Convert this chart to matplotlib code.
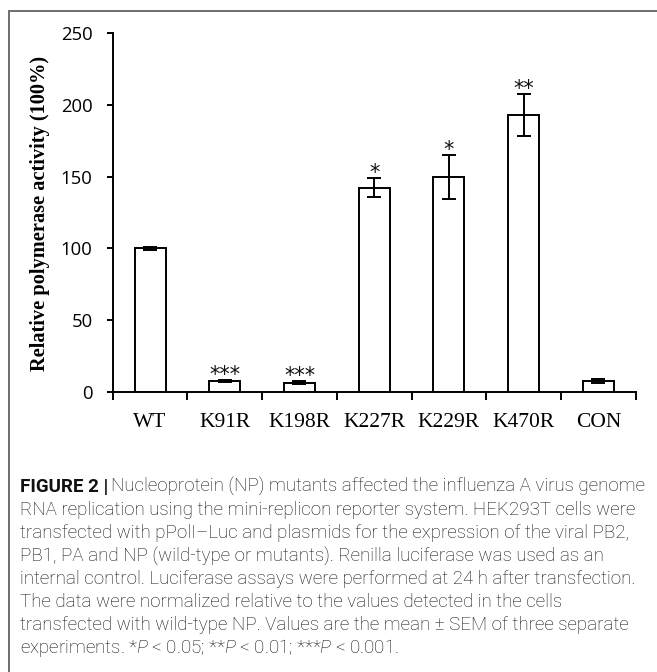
import matplotlib
matplotlib.use("Agg")
import matplotlib.pyplot as plt
from matplotlib.patches import Rectangle
import numpy as np

plt.rcParams["mathtext.fontset"] = "custom"
plt.rcParams["mathtext.it"] = "Roboto:italic:light"
plt.rcParams["mathtext.rm"] = "Roboto:light"

categories = ["WT", "K91R", "K198R", "K227R", "K229R", "K470R", "CON"]
values = [100.0, 7.9, 6.7, 142.2, 149.6, 192.7, 7.9]
errors = [1.0, 0.5, 1.0, 6.5, 15.2, 14.5, 1.6]
stars = ["", "***", "***", "*", "*", "**", ""]
yticks = [0, 50, 100, 150, 200, 250]

caption_lines = [
    "Nucleoprotein (NP) mutants affected the influenza A virus genome",
    "RNA replication using the mini-replicon reporter system. HEK293T cells were",
    "transfected with pPolI\u2013Luc and plasmids for the expression of the viral PB2,",
    "PB1, PA and NP (wild-type or mutants). Renilla luciferase was used as an",
    "internal control. Luciferase assays were performed at 24 h after transfection.",
    "The data were normalized relative to the values detected in the cells",
    "transfected with wild-type NP. Values are the mean \u00b1 SEM of three separate",
]

W, H = 657, 672
fig = plt.figure(figsize=(W / 100, H / 100), dpi=100)

# outer frame (extends beyond right and bottom edges)
fig.patches.append(Rectangle((9 / W, -0.1), 1.2, (H - 11) / H + 0.1,
                             transform=fig.transFigure, fill=False,
                             edgecolor="#6e6e6e", linewidth=1.4))

ax_l, ax_r = 112.7, 635.7
ax_t, ax_b = 32.7, 392.3
ax = fig.add_axes([ax_l / W, 1 - ax_b / H, (ax_r - ax_l) / W, (ax_b - ax_t) / H])

x = np.arange(len(categories))
lw = 1.4
ax.bar(x, values, width=0.415, color="white", edgecolor="black", linewidth=lw, zorder=2)
ax.errorbar(x, values, yerr=errors, fmt="none", ecolor="black", elinewidth=lw,
            capsize=4.8, capthick=lw, zorder=3)

for xi, v, e, s in zip(x, values, errors, stars):
    if s:
        ax.annotate(s, (xi, v + e), xytext=(0, 3.8), textcoords="offset points",
                    ha="center", va="center", fontsize=15, family="DejaVu Sans",
                    color="#111111")

ax.set_xlim(-0.5, len(categories) - 0.5)
ax.set_ylim(0, 250)
ax.set_yticks(yticks)
ax.set_yticklabels([str(t) for t in yticks], family="Open Sans", fontsize=13.3)
ax.set_xticks(x)
ax.set_xticklabels(categories, family="Liberation Serif", fontsize=15.5)
ax.set_xticks(np.arange(len(categories) + 1) - 0.5, minor=True)
ax.tick_params(axis="x", which="major", length=0, pad=15)
ax.tick_params(axis="x", which="minor", length=5.5, width=lw, direction="out")
ax.tick_params(axis="y", length=4.5, width=lw, direction="out", pad=10)
for side in ["top", "right"]:
    ax.spines[side].set_visible(False)
for side in ["left", "bottom"]:
    ax.spines[side].set_linewidth(lw)

fig.text(40 / W, 1 - 213 / H, "Relative polymerase activity (100%)", rotation=90,
         ha="center", va="center", family="Liberation Serif", fontweight="bold",
         fontsize=14.7)

# caption
cap_x = 20 / W
y0 = 487
dy = 23
fs = 13.5
col = "#111111"
t = fig.text(cap_x, 1 - y0 / H, "FIGURE 2 |", ha="left", va="center",
             family="Roboto", fontweight="bold", fontsize=fs, color=col)
fig.canvas.draw()
bb = t.get_window_extent()
fig.text((bb.x1 + 3) / W, 1 - y0 / H, caption_lines[0], ha="left", va="center",
         family="Roboto", fontweight="light", fontsize=fs, color=col)
for i, line in enumerate(caption_lines[1:], start=1):
    fig.text(cap_x, 1 - (y0 + i * dy) / H, line, ha="left", va="center",
             family="Roboto", fontweight="light", fontsize=fs, color=col)
fig.text(cap_x, 1 - (y0 + 7 * dy) / H,
         r"experiments. *$P$ < 0.05; **$P$ < 0.01; ***$P$ < 0.001.",
         ha="left", va="center", family="Roboto", fontweight="light",
         fontsize=fs, color=col)

fig.savefig("out.png", dpi=100)
